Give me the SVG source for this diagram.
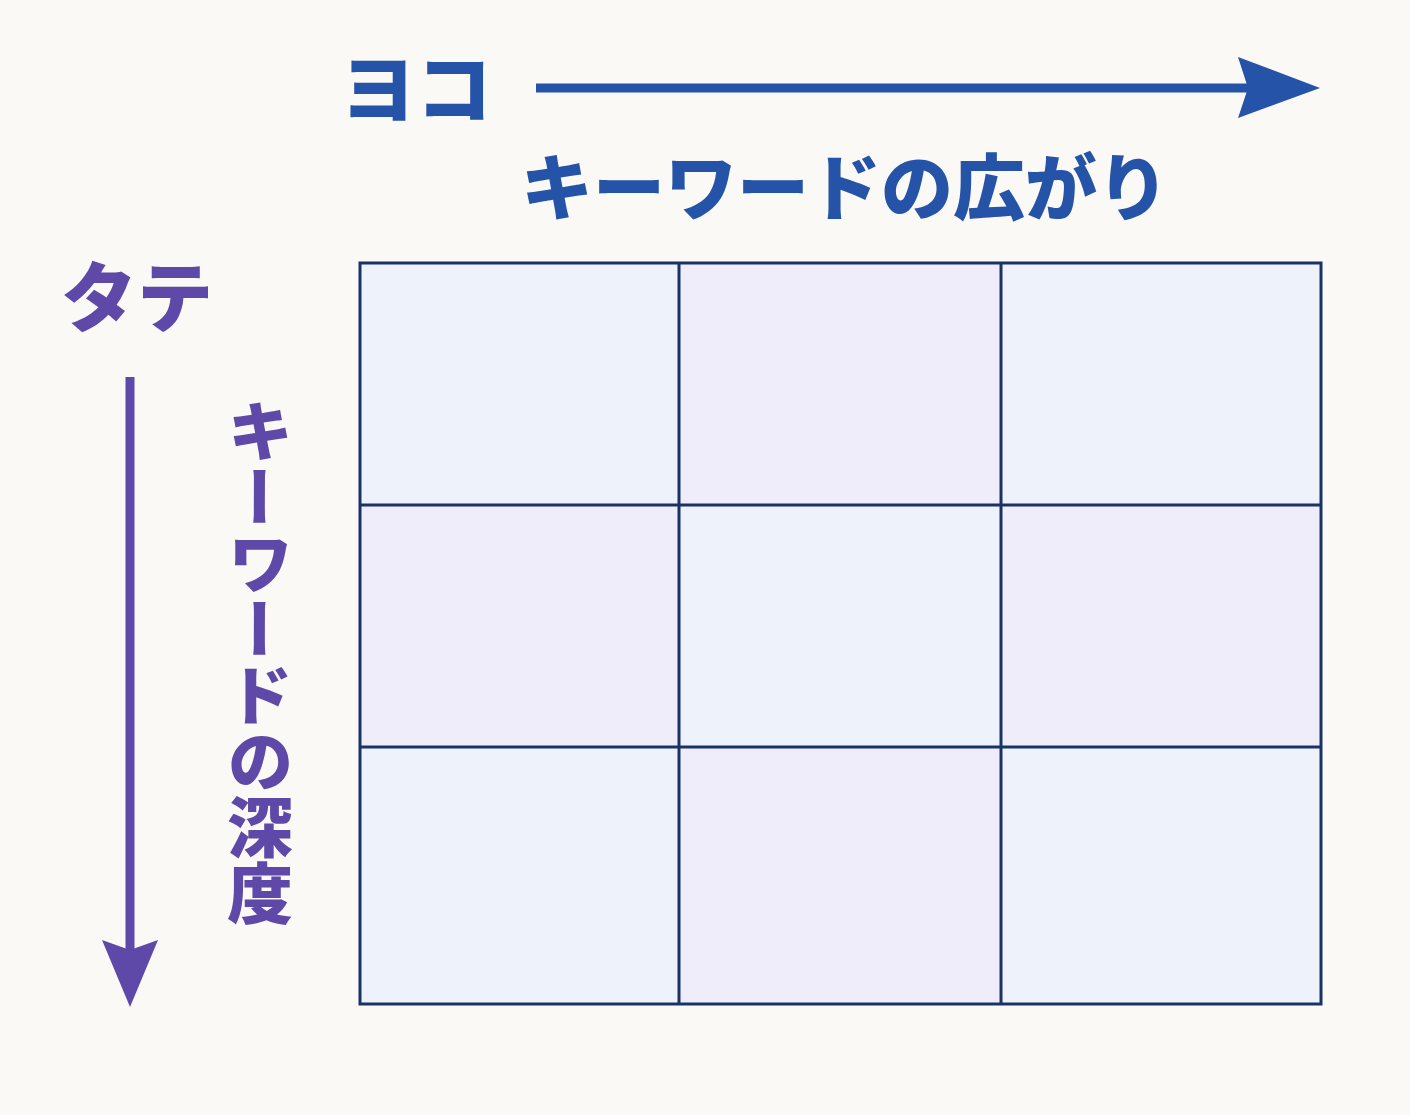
<svg xmlns="http://www.w3.org/2000/svg" width="1410" height="1115" viewBox="0 0 1410 1115">
<style>
.bg{fill:#FBF9F6}
.cb{fill:#EEF2FB}
.cl{fill:#F0EDFA}
.gl{stroke:#1A3366;stroke-width:3;fill:none}
.t{font-family:"Noto Sans CJK JP","Noto Sans CJK SC",sans-serif;font-weight:900}
.blue{fill:#2453A8}
.purp{fill:#5E48A8}
</style>
<rect class="bg" x="0" y="0" width="1410" height="1115"/>
<g id="grid">
<rect class="cb" x="360" y="263" width="319" height="242"/>
<rect class="cl" x="679" y="263" width="322" height="242"/>
<rect class="cb" x="1001" y="263" width="320" height="242"/>
<rect class="cl" x="360" y="505" width="319" height="242"/>
<rect class="cb" x="679" y="505" width="322" height="242"/>
<rect class="cl" x="1001" y="505" width="320" height="242"/>
<rect class="cb" x="360" y="747" width="319" height="257"/>
<rect class="cl" x="679" y="747" width="322" height="257"/>
<rect class="cb" x="1001" y="747" width="320" height="257"/>
<rect class="gl" x="360" y="263" width="961" height="741"/>
<line class="gl" x1="679" y1="263" x2="679" y2="1004"/>
<line class="gl" x1="1001" y1="263" x2="1001" y2="1004"/>
<line class="gl" x1="360" y1="505" x2="1321" y2="505"/>
<line class="gl" x1="360" y1="747" x2="1321" y2="747"/>
</g>
<g id="connectors">
<line x1="536" y1="88" x2="1250" y2="88" stroke="#2453A8" stroke-width="9"/>
<polygon class="blue" points="1238,57 1320,88 1238,118 1248,88"/>
<line x1="130" y1="377" x2="130" y2="950" stroke="#5E48A8" stroke-width="9"/>
<polygon class="purp" points="102,940 130,1007 158,940 130,950"/>
</g>
<g id="yoko">
<text class="t blue" x="416" y="117" font-size="76" text-anchor="middle">ヨコ</text>
</g>
<g id="yoko-label">
<text class="t blue" x="845" y="214" font-size="72" text-anchor="middle">キーワードの広がり</text>
</g>
<g id="tate">
<text class="t purp" x="137" y="326" font-size="76" text-anchor="middle">タテ</text>
</g>
<g id="tate-label">
<text class="t purp" x="260" y="398" font-size="66" style="writing-mode:vertical-rl">キーワードの深度</text>
</g>
</svg>
